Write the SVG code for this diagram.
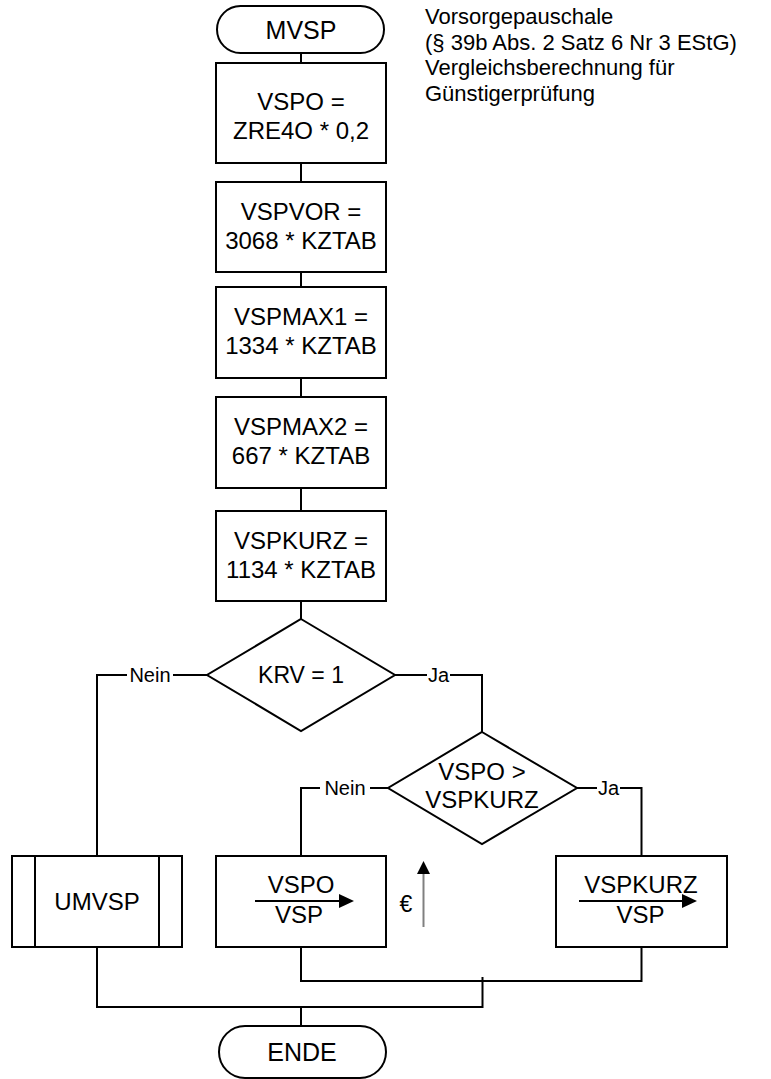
<svg xmlns="http://www.w3.org/2000/svg" width="771" height="1079" viewBox="0 0 771 1079">
<style>
.s{fill:#fff;stroke:#000;stroke-width:2}
.l{fill:none;stroke:#000;stroke-width:2}
text{font-family:"Liberation Sans",Arial,sans-serif;fill:#000}
.t{font-size:24px;text-anchor:middle}
.k{font-size:20px;text-anchor:middle}
.n{font-size:22px}
</style>
<rect width="771" height="1079" fill="#fff"/>
<g id="note"><text class="n" x="425" y="24">Vorsorgepauschale</text><text class="n" x="425" y="49.5">(§ 39b Abs. 2 Satz 6 Nr 3 EStG)</text><text class="n" x="425" y="75">Vergleichsberechnung für</text><text class="n" x="425" y="100.5">Günstigerprüfung</text></g>
<g id="connectors">
<path class="l" d="M301 53V63M301 163V182M301 272V287M301 378V397M301 488V511M301 601V619"/>
<path class="l" d="M207 675H173M127 675H97V856"/>
<path class="l" d="M395 675H427M450 675H482V732"/>
<path class="l" d="M388 788H370M320 788H301V856"/>
<path class="l" d="M577 788H597M620 788H641.5V856"/>
<path class="l" d="M301 947V981H641.5V947M482.5 977V1007H97V947M301 1007V1026"/>
<text class="k" x="150" y="682">Nein</text>
<text class="k" x="438.5" y="682">Ja</text>
<text class="k" x="345" y="795">Nein</text>
<text class="k" x="608.5" y="795">Ja</text>
</g>
<g id="start"><rect class="s" x="217" y="6" width="167" height="47" rx="23.5"/><text class="t" x="301" y="39" style="font-size:25px">MVSP</text></g>
<g id="n1"><rect class="s" x="216" y="63" width="170" height="100"/><text class="t" x="301" y="110">VSPO =</text><text class="t" x="301" y="139">ZRE4O * 0,2</text></g>
<g id="n2"><rect class="s" x="216" y="182" width="170" height="90"/><text class="t" x="301" y="220">VSPVOR =</text><text class="t" x="301" y="249">3068 * KZTAB</text></g>
<g id="n3"><rect class="s" x="216" y="287" width="170" height="91"/><text class="t" x="301" y="325">VSPMAX1 =</text><text class="t" x="301" y="354">1334 * KZTAB</text></g>
<g id="n4"><rect class="s" x="216" y="397" width="170" height="91"/><text class="t" x="301" y="435">VSPMAX2 =</text><text class="t" x="301" y="464">667 * KZTAB</text></g>
<g id="n5"><rect class="s" x="216" y="511" width="170" height="90"/><text class="t" x="301" y="549">VSPKURZ =</text><text class="t" x="301" y="578">1134 * KZTAB</text></g>
<g id="d1"><polygon class="s" points="301,619 395,675 301,731 207,675"/><text class="t" x="301" y="683" style="font-size:23px">KRV = 1</text></g>
<g id="d2"><polygon class="s" points="482,732 577,788 482,844 388,788"/><text class="t" x="482" y="780">VSPO &gt;</text><text class="t" x="482" y="808">VSPKURZ</text></g>
<g id="umvsp"><rect class="s" x="12" y="856" width="170" height="91"/><path class="l" d="M35 856V947M159 856V947"/><text class="t" x="97" y="910">UMVSP</text></g>
<g id="a1"><rect class="s" x="216" y="856" width="170" height="91"/><text class="t" x="301" y="893">VSPO</text><text class="t" x="299" y="923">VSP</text><path class="l" d="M255 901H341"/><polygon points="339,894 354,901 339,908" fill="#000"/></g>
<g id="euro"><text class="t" x="406" y="912" style="font-size:23px">€</text><path d="M423.5 927V873" stroke="#808080" stroke-width="2"/><polygon points="417,874 430,874 423.5,861" fill="#000"/></g>
<g id="a2"><rect class="s" x="556" y="856" width="171" height="91"/><text class="t" x="641" y="893">VSPKURZ</text><text class="t" x="640.5" y="923">VSP</text><path class="l" d="M579 901H684"/><polygon points="682,894 697,901 682,908" fill="#000"/></g>
<g id="end"><rect class="s" x="219" y="1026" width="167" height="52" rx="26"/><text class="t" x="302" y="1061" style="font-size:25px">ENDE</text></g>
</svg>
